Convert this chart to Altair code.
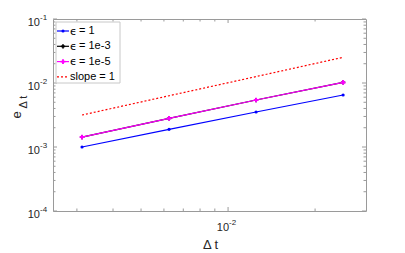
import altair as alt
import pandas as pd

# ---- data ----
dt = [0.003125, 0.00625, 0.0125, 0.025]
err_eps_1 = [1.0e-3, 1.89e-3, 3.52e-3, 6.5e-3]
err_eps_1e3 = [1.43e-3, 2.8e-3, 5.42e-3, 1.02e-2]
err_eps_1e5 = [1.43e-3, 2.8e-3, 5.42e-3, 1.02e-2]
slope_ref = [3.16e-3, 6.32e-3, 1.26e-2, 2.52e-2]

labels = ["ϵ = 1", "ϵ = 1e-3", "ϵ = 1e-5", "slope = 1"]
colors = ["#0000ff", "#000000", "#ff00ff", "#ff0000"]

y_major = [1e-4, 1e-3, 1e-2, 1e-1]
y_major_exp = ["-4", "-3", "-2", "-1"]
y_minor = [m * 10.0 ** e for e in (-4, -3, -2) for m in range(2, 10)]
x_major = [1e-2]
x_major_exp = ["-2"]
x_minor = [3e-3, 4e-3, 5e-3, 6e-3, 7e-3, 8e-3, 9e-3, 2e-2]

W, H = 313, 192
FONT = "Liberation Sans"
TXT = "#262626"
AX = "#9a9a9a"

xs = alt.Scale(type="log", domain=[0.00248, 0.030])
ys = alt.Scale(type="log", domain=[1e-4, 1e-1])

layers = []

marker = {0: ("circle", 10), 1: ("cross", 18), 2: ("cross", 22)}

series = [err_eps_1, err_eps_1e3, err_eps_1e5, slope_ref]
for k, vals in enumerate(series):
    df = pd.DataFrame({"dt": dt, "e": vals})
    base = alt.Chart(df).encode(
        x=alt.X("dt:Q", scale=xs, axis=None),
        y=alt.Y("e:Q", scale=ys, axis=None),
    )
    if k == 3:
        layers.append(base.mark_line(color=colors[k], strokeWidth=1.2, strokeDash=[2, 2]))
    else:
        shp, sz = marker[k]
        layers.append(base.mark_line(color=colors[k], strokeWidth=1.2))
        layers.append(base.mark_point(color=colors[k], filled=True, size=sz,
                                      shape=shp, opacity=1))

# ---- inward ticks ----
def yticks(vals, length):
    df = pd.DataFrame({"v": vals})
    left = alt.Chart(df).mark_rule(color=AX, strokeWidth=1).encode(
        y=alt.Y("v:Q", scale=ys, axis=None), x=alt.value(0), x2=alt.value(length))
    right = alt.Chart(df).mark_rule(color=AX, strokeWidth=1).encode(
        y=alt.Y("v:Q", scale=ys, axis=None), x=alt.value(W), x2=alt.value(W - length))
    return [left, right]

def xticks(vals, length):
    df = pd.DataFrame({"v": vals})
    bottom = alt.Chart(df).mark_rule(color=AX, strokeWidth=1).encode(
        x=alt.X("v:Q", scale=xs, axis=None), y=alt.value(H), y2=alt.value(H - length))
    top = alt.Chart(df).mark_rule(color=AX, strokeWidth=1).encode(
        x=alt.X("v:Q", scale=xs, axis=None), y=alt.value(0), y2=alt.value(length))
    return [bottom, top]

layers += yticks(y_major, 4) + yticks(y_minor, 2.5)
layers += xticks(x_major, 4) + xticks(x_minor, 2.5)

# ---- tick labels ----
ydf = pd.DataFrame({"v": y_major, "exp": y_major_exp})
layers.append(alt.Chart(ydf).mark_text(text="10", align="right", baseline="middle", dy=4,
                                       font=FONT, fontSize=11, color=TXT).encode(
    y=alt.Y("v:Q", scale=ys, axis=None), x=alt.value(-13)))
layers.append(alt.Chart(ydf).mark_text(align="left", baseline="middle", dy=-1,
                                       font=FONT, fontSize=8, color=TXT).encode(
    y=alt.Y("v:Q", scale=ys, axis=None), x=alt.value(-13), text="exp:N"))

xdf = pd.DataFrame({"v": x_major, "exp": x_major_exp})
layers.append(alt.Chart(xdf).mark_text(text="10", align="right", baseline="middle", dx=1,
                                       font=FONT, fontSize=11, color=TXT).encode(
    x=alt.X("v:Q", scale=xs, axis=None), y=alt.value(H + 17)))
layers.append(alt.Chart(xdf).mark_text(align="left", baseline="middle", dx=1,
                                       font=FONT, fontSize=8, color=TXT).encode(
    x=alt.X("v:Q", scale=xs, axis=None), y=alt.value(H + 12), text="exp:N"))

# ---- axis titles ----
layers.append(alt.Chart(pd.DataFrame({"t": ["Δ t"]})).mark_text(
    align="center", baseline="middle", font=FONT, fontSize=13, color=TXT).encode(
    x=alt.value(W / 2 + 1), y=alt.value(H + 34), text="t:N"))
layers.append(alt.Chart(pd.DataFrame({"t": ["e"]})).mark_text(
    align="center", baseline="middle", font=FONT, fontSize=13, color=TXT, angle=270).encode(
    x=alt.value(-36), y=alt.value(96), text="t:N"))
layers.append(alt.Chart(pd.DataFrame({"t": ["Δ t"]})).mark_text(
    align="center", baseline="middle", font=FONT, fontSize=11, color=TXT, angle=270).encode(
    x=alt.value(-29), y=alt.value(83), text="t:N"))

# ---- legend ----
layers.append(alt.Chart(pd.DataFrame({"a": [0]})).mark_rect(
    fill="white", stroke="#c8c8c8", strokeWidth=1).encode(
    x=alt.value(3), x2=alt.value(67), y=alt.value(3), y2=alt.value(64)))
for i, (lab, col) in enumerate(zip(labels, colors)):
    yy = 12 + i * 15.3
    kw = dict(strokeDash=[2, 2]) if i == 3 else {}
    layers.append(alt.Chart(pd.DataFrame({"a": [0]})).mark_rule(
        color=col, strokeWidth=1.2, **kw).encode(
        x=alt.value(4), x2=alt.value(16), y=alt.value(yy)))
    if i < 3:
        shp, sz = marker[i]
        layers.append(alt.Chart(pd.DataFrame({"a": [0]})).mark_point(
            color=col, filled=True, opacity=1, size=sz, shape=shp).encode(
            x=alt.value(10), y=alt.value(yy)))
    if lab.startswith("ϵ"):
        head, rest = lab[0], lab[1:].strip()
        layers.append(alt.Chart(pd.DataFrame({"t": [head]})).mark_text(
            align="left", baseline="middle", font="DejaVu Sans", fontSize=11,
            color="#000000").encode(x=alt.value(17), y=alt.value(yy + 0.5), text="t:N"))
        layers.append(alt.Chart(pd.DataFrame({"t": [rest]})).mark_text(
            align="left", baseline="middle", font=FONT, fontSize=11,
            color="#000000").encode(x=alt.value(26), y=alt.value(yy), text="t:N"))
    else:
        layers.append(alt.Chart(pd.DataFrame({"t": [lab]})).mark_text(
            align="left", baseline="middle", font=FONT, fontSize=11,
            color="#000000").encode(x=alt.value(17), y=alt.value(yy), text="t:N"))

chart = alt.layer(*layers).properties(
    width=W, height=H,
    autosize=alt.AutoSizeParams(type="none"),
    padding={"left": 45, "top": 11, "right": 30, "bottom": 40},
).configure_view(stroke=AX, strokeWidth=1)

chart.save("out.html", embed_options={"renderer": "svg", "actions": False})
